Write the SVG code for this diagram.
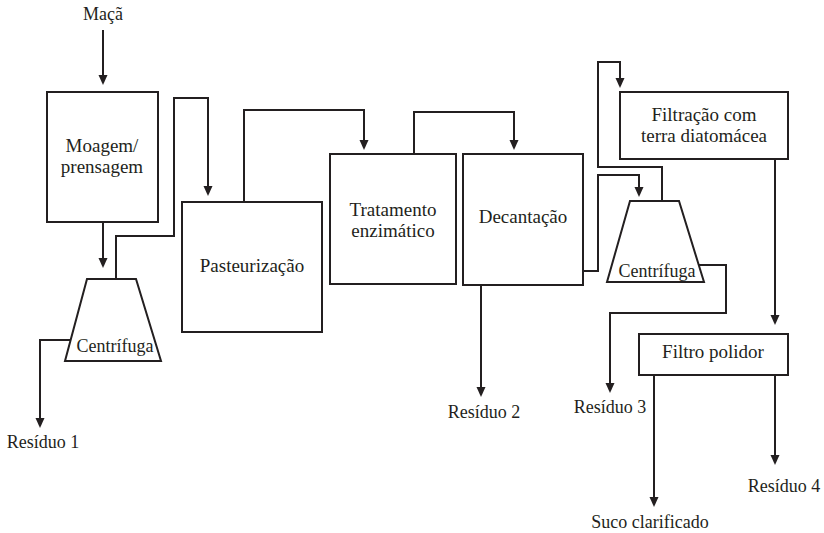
<svg xmlns="http://www.w3.org/2000/svg" width="824" height="533" viewBox="0 0 824 533">
<style>
.box{fill:#fff;stroke:#231f20;stroke-width:2}
.c{fill:none;stroke:#231f20;stroke-width:2}
text{font-family:"Liberation Serif","Times New Roman",serif;font-size:18px;fill:#231f20;text-anchor:middle}
.bl{font-size:19px}
</style>
<defs>
<marker id="ah" markerUnits="userSpaceOnUse" markerWidth="10" markerHeight="10" refX="2" refY="4.5" orient="auto">
<path d="M0,0 L10,4.5 L0,9 z" fill="#231f20"/>
</marker>
</defs>
<rect width="824" height="533" fill="#fff"/>
<g id="connectors">
<path class="c" d="M103,30 V77" marker-end="url(#ah)"/>
<path class="c" d="M103,222 V260" marker-end="url(#ah)"/>
<path class="c" d="M116,279 V236 H174 V98 H208 V188" marker-end="url(#ah)"/>
<path class="c" d="M70,340 H40 V420" marker-end="url(#ah)"/>
<path class="c" d="M244,202 V110 H364 V142" marker-end="url(#ah)"/>
<path class="c" d="M414,154 V112 H514 V142" marker-end="url(#ah)"/>
<path class="c" d="M583,271 H598 V175 H639 V189" marker-end="url(#ah)"/>
<path class="c" d="M481,285 V389" marker-end="url(#ah)"/>
<path class="c" d="M662,201 V167 H598 V62 H620 V80" marker-end="url(#ah)"/>
<path class="c" d="M699,265 H726 V313 H610 V385" marker-end="url(#ah)"/>
<path class="c" d="M775,159 V317" marker-end="url(#ah)"/>
<path class="c" d="M654,375 V499" marker-end="url(#ah)"/>
<path class="c" d="M775,375 V457" marker-end="url(#ah)"/>
</g>
<g id="maca"><text x="103" y="20">Maçã</text></g>
<g id="moagem">
<rect class="box" x="47" y="92" width="111" height="130"/>
<text class="bl" x="102" y="152">Moagem/</text>
<text class="bl" x="102" y="173">prensagem</text>
</g>
<g id="centrifuga1">
<path class="box" d="M87,279 H136 L161,361 H65 Z"/>
<text x="115" y="352">Centrífuga</text>
</g>
<g id="pasteurizacao">
<rect class="box" x="182" y="202" width="140" height="130"/>
<text class="bl" x="252" y="272">Pasteurização</text>
</g>
<g id="tratamento">
<rect class="box" x="330" y="154" width="126" height="130"/>
<text class="bl" x="393" y="216">Tratamento</text>
<text class="bl" x="393" y="237">enzimático</text>
</g>
<g id="decantacao">
<rect class="box" x="463" y="154" width="120" height="131"/>
<text class="bl" x="523" y="223">Decantação</text>
</g>
<g id="centrifuga2">
<path class="box" d="M630,201 H679 L704,282 H607 Z"/>
<text x="657" y="277">Centrífuga</text>
</g>
<g id="filtracao">
<rect class="box" x="620" y="92" width="168" height="67"/>
<text class="bl" x="704" y="121">Filtração com</text>
<text class="bl" x="704" y="142">terra diatomácea</text>
</g>
<g id="polidor">
<rect class="box" x="639" y="334" width="149" height="41"/>
<text class="bl" x="713" y="358">Filtro polidor</text>
</g>
<g id="residuo1"><text x="43" y="448">Resíduo 1</text></g>
<g id="residuo2"><text x="484" y="418">Resíduo 2</text></g>
<g id="residuo3"><text x="610" y="413">Resíduo 3</text></g>
<g id="residuo4"><text x="784" y="492">Resíduo 4</text></g>
<g id="suco"><text x="650" y="528">Suco clarificado</text></g>
</svg>
